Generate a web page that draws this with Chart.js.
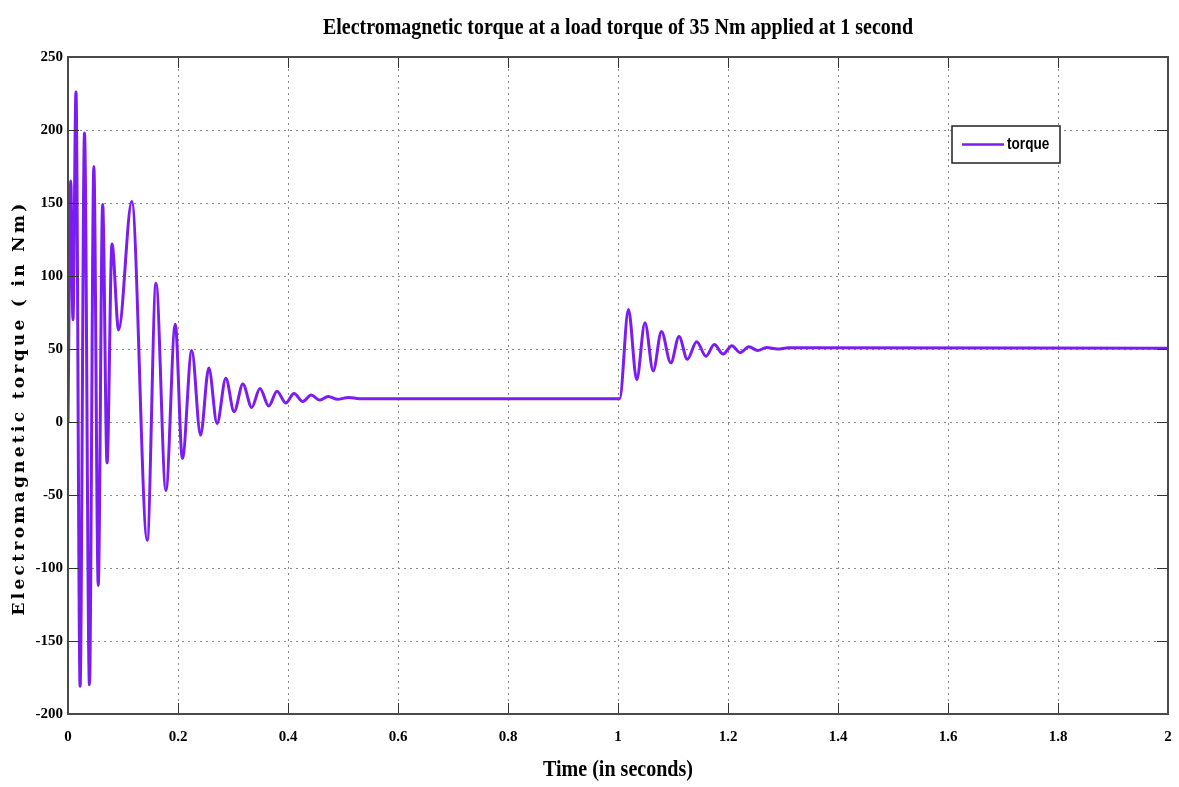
<!DOCTYPE html>
<html>
<head>
<meta charset="utf-8">
<title>Electromagnetic torque</title>
<script src="https://cdn.jsdelivr.net/npm/chart.js@4.4.1/dist/chart.umd.min.js"></script>
<style>
  html, body { margin: 0; padding: 0; background: #fff; }
</style>
</head>
<body>
<canvas id="torqueChart" width="1179" height="787"></canvas>
<script>
// peaks / troughs (time in s, torque in Nm)
const timeSec = [
  0, 0.005, 0.009, 0.0145, 0.022, 0.030, 0.039, 0.047, 0.055, 0.063,
  0.071, 0.080, 0.092, 0.116, 0.144, 0.160, 0.178, 0.195, 0.208, 0.225,
  0.241, 0.256, 0.271, 0.287, 0.302, 0.318, 0.334, 0.349, 0.365, 0.380,
  0.396, 0.411, 0.427, 0.442, 0.458, 0.473, 0.490, 0.510, 0.530, 1.003,
  1.019, 1.034, 1.049, 1.064, 1.079, 1.096, 1.111, 1.126, 1.143, 1.160,
  1.175, 1.191, 1.207, 1.222, 1.238, 1.254, 1.270, 1.290, 1.310, 2.0
];
const torqueNm = [
  0, 165, 70, 226, -181, 198, -180, 175, -112, 149,
  -28, 122, 63, 151, -81, 95, -47, 67, -25, 49,
  -9, 37, -1, 30, 7, 26, 10, 23, 11, 21,
  13, 19.5, 14, 18.5, 15, 17.5, 15.5, 16.8, 16, 16,
  77, 29, 68, 35, 62, 40.5, 58.5, 43, 55, 45,
  53, 46.5, 52.3, 47.5, 51.5, 49, 51, 50, 50.8, 50.5
];
const xTicks = [0, 0.2, 0.4, 0.6, 0.8, 1, 1.2, 1.4, 1.6, 1.8, 2];
const yTicks = [-200, -150, -100, -50, 0, 50, 100, 150, 200, 250];

const titleText = "Electromagnetic torque at a load torque of 35 Nm applied at 1 second";
const xTitle = "Time (in seconds)";
const yTitle = "Electromagnetic torque ( in Nm)";
const seriesLabel = "torque";
const lineColor = "#7a1cf2";

// frame, inner tick marks, titles and legend (matlab style)
const matlabFrame = {
  id: "matlabFrame",
  afterDraw(chart) {
    const ctx = chart.ctx;
    const area = chart.chartArea;
    const xs = chart.scales.x;
    const ys = chart.scales.y;

    ctx.save();
    ctx.strokeStyle = "#333";
    ctx.lineWidth = 1;
    xs.ticks.forEach((t) => {
      const px = Math.round(xs.getPixelForValue(t.value)) + 0.5;
      ctx.beginPath();
      ctx.moveTo(px, area.bottom);
      ctx.lineTo(px, area.bottom - 11);
      ctx.moveTo(px, area.top);
      ctx.lineTo(px, area.top + 11);
      ctx.stroke();
    });
    ys.ticks.forEach((t) => {
      const py = Math.round(ys.getPixelForValue(t.value)) + 0.5;
      ctx.beginPath();
      ctx.moveTo(area.left, py);
      ctx.lineTo(area.left + 11, py);
      ctx.moveTo(area.right, py);
      ctx.lineTo(area.right - 11, py);
      ctx.stroke();
    });

    ctx.lineWidth = 2;
    ctx.strokeStyle = "#4a4a4a";
    ctx.strokeRect(area.left, area.top, area.right - area.left, area.bottom - area.top);

    // legend box
    const lw = 108, lh = 37;
    const lx = area.right - 216, ly = area.top + 69;
    ctx.fillStyle = "#fff";
    ctx.fillRect(lx, ly, lw, lh);
    ctx.lineWidth = 1.5;
    ctx.strokeStyle = "#222";
    ctx.strokeRect(lx, ly, lw, lh);
    const ds = chart.data.datasets[0];
    ctx.strokeStyle = ds.borderColor;
    ctx.lineWidth = 2.5;
    ctx.beginPath();
    ctx.moveTo(lx + 10, ly + lh / 2);
    ctx.lineTo(lx + 52, ly + lh / 2);
    ctx.stroke();
    ctx.fillStyle = "#000";
    ctx.font = 'bold 16px "Liberation Sans"';
    ctx.textBaseline = "middle";
    ctx.textAlign = "left";
    ctx.save();
    ctx.translate(lx + 55, ly + lh / 2);
    ctx.scale(0.85, 1);
    ctx.fillText(ds.label, 0, 0);
    ctx.restore();

    // chart title, condensed serif
    const cx = (area.left + area.right) / 2;
    ctx.font = 'bold 23px "Liberation Serif"';
    ctx.textAlign = "center";
    ctx.textBaseline = "middle";
    let w = ctx.measureText(titleText).width;
    ctx.save();
    ctx.translate(cx, 28);
    ctx.scale(590 / w, 1);
    ctx.fillText(titleText, 0, 0);
    ctx.restore();

    // x axis title
    ctx.font = 'bold 23px "Liberation Serif"';
    w = ctx.measureText(xTitle).width;
    ctx.save();
    ctx.translate(cx, 770);
    ctx.scale(150 / w, 1);
    ctx.fillText(xTitle, 0, 0);
    ctx.restore();

    // y axis title, wide serif stretched to its span
    ctx.save();
    ctx.font = 'bold 17px "DejaVu Serif"';
    w = ctx.measureText(yTitle).width;
    ctx.letterSpacing = Math.max(0, (415 - w) / yTitle.length).toFixed(2) + "px";
    ctx.translate(20, 408);
    ctx.rotate(-Math.PI / 2);
    ctx.fillText(yTitle, 0, 0);
    ctx.restore();

    ctx.restore();
  },
};

const tickFont = { family: '"Liberation Serif"', size: 15, weight: "bold" };

new Chart(document.getElementById("torqueChart").getContext("2d"), {
  type: "line",
  data: {
    datasets: [
      {
        label: seriesLabel,
        data: timeSec.map((t, i) => ({ x: t, y: torqueNm[i] })),
        borderColor: lineColor,
        borderWidth: 3,
        pointRadius: 0,
        fill: false,
        cubicInterpolationMode: "monotone",
      },
    ],
  },
  options: {
    responsive: false,
    animation: false,
    devicePixelRatio: 1,
    layout: { padding: { top: 57, right: 11, left: 0, bottom: 0 } },
    plugins: {
      legend: { display: false },
      title: { display: false },
      tooltip: { enabled: false },
    },
    scales: {
      x: {
        type: "linear",
        min: 0,
        max: 2,
        afterBuildTicks: (s) => { s.ticks = xTicks.map((v) => ({ value: v })); },
        afterFit: (s) => {
          s.height = 73;
          s.paddingLeft = 0;
          s.paddingRight = 0;
        },
        ticks: {
          font: tickFont,
          color: "#000",
          padding: 14,
          maxRotation: 0,
          autoSkip: false,
          callback: (v) => String(v),
        },
        grid: { color: "#8a8a8a", lineWidth: 1, drawTicks: false },
        border: { display: false, dash: [2, 4] },
      },
      y: {
        min: -200,
        max: 250,
        afterBuildTicks: (s) => { s.ticks = yTicks.map((v) => ({ value: v })); },
        afterFit: (s) => {
          s.width = 68;
          s.paddingTop = 0;
          s.paddingBottom = 0;
        },
        ticks: {
          font: tickFont,
          color: "#000",
          padding: 5,
          autoSkip: false,
          callback: (v) => String(v),
        },
        grid: { color: "#8a8a8a", lineWidth: 1, drawTicks: false },
        border: { display: false, dash: [2, 4] },
      },
    },
  },
  plugins: [matlabFrame],
});
</script>
</body>
</html>
